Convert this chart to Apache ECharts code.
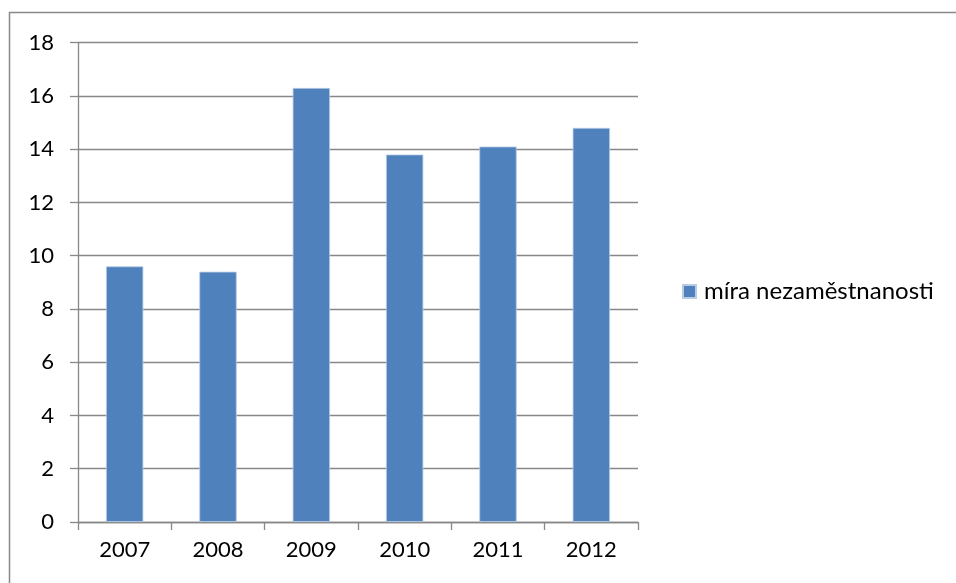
<!DOCTYPE html>
<html>
<head>
<meta charset="utf-8">
<script src="https://cdn.jsdelivr.net/npm/echarts@6/dist/echarts.min.js"></script>
<style>
html,body{margin:0;padding:0;background:#fff;}
#chart{width:956px;height:583px;}
</style>
</head>
<body>
<div id="chart"></div>
<script>
const categories = ['2007', '2008', '2009', '2010', '2011', '2012'];
const seriesName = 'míra nezaměstnanosti';
const values = [9.6, 9.4, 16.3, 13.8, 14.1, 14.8];
const yTicks = { min: 0, max: 18, interval: 2 };

const chart = echarts.init(document.getElementById('chart'));
const font = 'Lato, "Open Sans", "Liberation Sans", sans-serif';
chart.setOption({
  animation: false,
  backgroundColor: '#fff',
  graphic: [{
    type: 'rect',
    shape: { x: 9.5, y: 12.5, width: 1000, height: 1000 },
    style: { fill: 'none', stroke: '#888', lineWidth: 1.5 },
    silent: true
  }],
  grid: { left: 78, right: 318, top: 42.7, bottom: 61 },
  legend: {
    left: 677, top: 'middle',
    orient: 'vertical',
    icon: 'rect', itemWidth: 13, itemHeight: 13,
    textStyle: { fontFamily: font, fontSize: 24, color: '#000', padding: [0, 0, 0, 3] },
    data: [seriesName]
  },
  xAxis: {
    type: 'category',
    data: categories,
    axisLine: { lineStyle: { color: '#888', width: 1.3 } },
    axisTick: { show: true, length: 8, alignWithLabel: false, lineStyle: { color: '#888', width: 1.3 } },
    axisLabel: { fontFamily: font, fontSize: 22, color: '#000', margin: 17 }
  },
  yAxis: {
    type: 'value',
    min: yTicks.min, max: yTicks.max, interval: yTicks.interval,
    axisLine: { show: true, lineStyle: { color: '#888', width: 1.3 } },
    axisTick: { show: true, length: 8, lineStyle: { color: '#888', width: 1.3 } },
    splitLine: { lineStyle: { color: '#888', width: 1.3 } },
    axisLabel: { fontFamily: font, fontSize: 22, color: '#000', margin: 24 }
  },
  series: [{
    name: seriesName,
    type: 'bar',
    data: values,
    barCategoryGap: '60%',
    itemStyle: { color: '#4F81BD', borderColor: '#b8cce4', borderWidth: 0.8 }
  }]
});
</script>
</body>
</html>
